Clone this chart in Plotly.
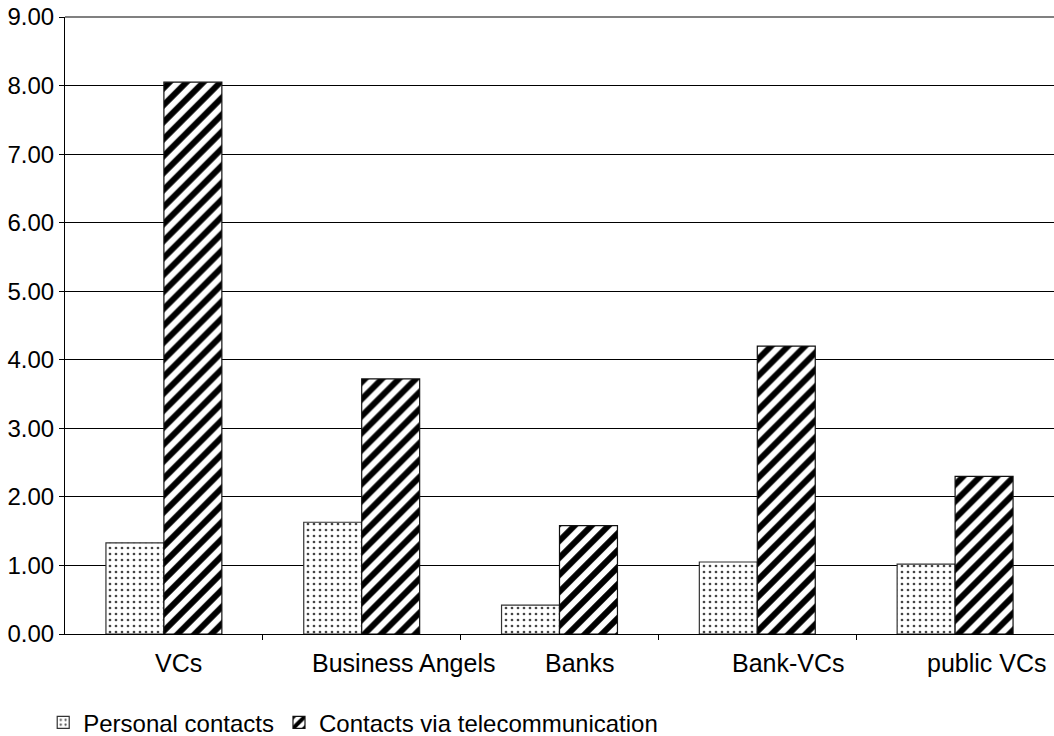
import plotly.graph_objects as go

categories = ["VCs", "Business Angels", "Banks", "Bank-VCs", "public VCs"]
personal = [1.33, 1.63, 0.42, 1.05, 1.02]
telecom = [8.05, 3.72, 1.58, 4.20, 2.30]
label_shift = [15, 42, 20, 31, 32]
y_ticks = [0, 1, 2, 3, 4, 5, 6, 7, 8, 9]

xs = list(range(len(categories)))
FONT = "Liberation Sans, Arial, sans-serif"
FS = 24

fig = go.Figure()
fig.add_trace(go.Bar(
    x=xs, y=personal, name="Personal contacts",
    marker=dict(color="white", line=dict(color="#333333", width=1.2),
                pattern=dict(shape=".", fgcolor="#444444", bgcolor="white",
                             fgopacity=1, size=6, solidity=0.16)),
))
fig.add_trace(go.Bar(
    x=xs, y=telecom, name="Contacts via telecommunication",
    marker=dict(color="white", line=dict(color="#111111", width=1.2),
                pattern=dict(shape="/", fgcolor="black", bgcolor="white",
                             fgopacity=1, size=12, solidity=0.5)),
))

for i, (c, s) in enumerate(zip(categories, label_shift)):
    fig.add_annotation(x=i, y=0, xref="x", yref="y", text=c, showarrow=False,
                       yanchor="top", yshift=-13, xshift=s,
                       font=dict(family=FONT, size=25, color="black"))

fig.add_shape(type="line", xref="paper", yref="paper", x0=0, x1=1, y0=1, y1=1,
              line=dict(color="#808080", width=2), layer="above")

fig.update_layout(
    width=1054, height=736,
    margin=dict(l=65, r=0, t=17, b=102, autoexpand=False),
    paper_bgcolor="white", plot_bgcolor="white",
    barmode="group", bargap=0.414, bargroupgap=0,
    font=dict(family=FONT, size=FS, color="black"),
    showlegend=True,
    legend=dict(orientation="h", x=0.041, xref="container", xanchor="left",
                y=0.018, yref="container", yanchor="middle",
                font=dict(family=FONT, size=FS, color="black"),
                itemwidth=30, traceorder="normal", tracegroupgap=0,
                bgcolor="rgba(0,0,0,0)"),
    xaxis=dict(range=[-0.5, 4.5], tickvals=[0.5, 1.5, 2.5, 3.5], showticklabels=False,
               ticks="outside", ticklen=5, tickcolor="black", automargin=False,
               showline=True, linecolor="black", linewidth=1,
               showgrid=False, zeroline=False),
    yaxis=dict(range=[0, 9], tickvals=y_ticks, tickformat=".2f", automargin=False,
               ticklabeloverflow="allow",
               ticks="outside", ticklen=5, tickcolor="black",
               showline=True, linecolor="black", linewidth=1,
               showgrid=True, gridcolor="black", gridwidth=1,
               zeroline=False, tickfont=dict(family=FONT, size=FS, color="black")),
)

fig.write_html("out.html", config={"displayModeBar": False},
               post_script="document.body.style.margin='0';document.body.style.overflow='hidden';")
